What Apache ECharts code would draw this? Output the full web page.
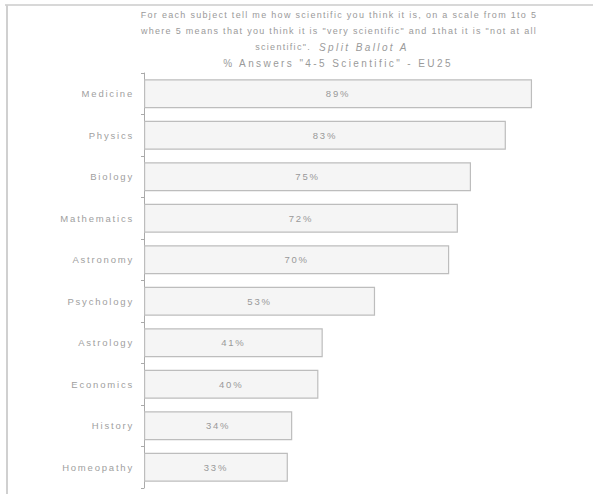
<!DOCTYPE html>
<html>
<head>
<meta charset="utf-8">
<script src="https://cdn.jsdelivr.net/npm/echarts@6/dist/echarts.min.js"></script>
<style>
html,body{margin:0;padding:0;background:#fff;}
#c{width:593px;height:494px;}
#c text{letter-spacing:1.8px;}
#c text[style*="Liberation"], #c text[font-family*="Liberation"]{letter-spacing:1.3px;}
#c text[style*="Liberation"][style*="10px"], #c text[font-family*="Liberation"][font-size*="10"]{letter-spacing:2.4px;}
</style>
</head>
<body>
<div id="c"></div>
<script>
const categories = ['Medicine','Physics','Biology','Mathematics','Astronomy','Psychology','Astrology','Economics','History','Homeopathy'];
const values = [89, 83, 75, 72, 70, 53, 41, 40, 34, 33];
const titleLine1 = 'For each subject tell me how scientific you think it is, on a scale from 1to 5';
const titleLine2 = 'where 5 means that you think it is "very scientific" and 1that it is "not at all';
const titleLine3a = 'scientific".';
const titleLine3b = 'Split Ballot A';
const titleLine4 = '% Answers "4-5 Scientific" - EU25';

const tStyle = {fontFamily: 'Liberation Sans', fontSize: 9, fontWeight: 'normal', color: '#9a9a9a', lineHeight: 16};

const chart = echarts.init(document.getElementById('c'), null, {renderer: 'svg'});
chart.setOption({
  animation: false,
  backgroundColor: '#fff',
  title: [
    {text: titleLine1 + '\n' + titleLine2, left: 334, top: 2, textAlign: 'center', textStyle: tStyle},
    {text: titleLine3a, left: 306, top: 34, textAlign: 'right', textStyle: tStyle},
    {text: titleLine3b, left: 314, top: 34, textAlign: 'left',
      textStyle: Object.assign({}, tStyle, {fontStyle: 'italic', fontSize: 10})},
    {text: titleLine4, left: 333, top: 50, textAlign: 'center',
      textStyle: Object.assign({}, tStyle, {fontSize: 10})}
  ],
  graphic: [
    {type: 'line', shape: {x1: 5, y1: 5, x2: 593, y2: 5}, style: {stroke: '#d8d8d8', lineWidth: 2}},
    {type: 'line', shape: {x1: 7, y1: 5, x2: 7, y2: 494}, style: {stroke: '#d0d0d0', lineWidth: 2}}
  ],
  grid: {left: 144, right: 13, top: 73, bottom: 6, containLabel: false},
  xAxis: {type: 'value', min: 0, max: 100, show: false},
  yAxis: {
    type: 'category',
    data: categories,
    inverse: true,
    axisLine: {show: true, lineStyle: {color: '#aaaaaa', width: 1}},
    axisTick: {show: true, length: 3, lineStyle: {color: '#aaaaaa'}},
    axisLabel: {color: '#a0a0a0', fontSize: 9.5, fontFamily: 'Arial', margin: 10},
    splitLine: {show: false}
  },
  series: [{
    type: 'bar',
    data: values,
    barCategoryGap: '30%',
    itemStyle: {color: '#f5f5f5', borderColor: '#bdbdbd', borderWidth: 1.2},
    label: {
      show: true,
      position: 'inside',
      formatter: '{c}%',
      color: '#999999',
      fontSize: 9.5,
      fontFamily: 'Arial'
    }
  }]
});
</script>
</body>
</html>
